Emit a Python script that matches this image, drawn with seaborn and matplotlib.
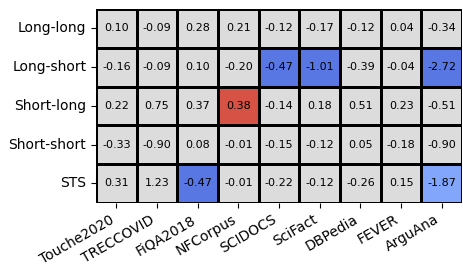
import numpy as np
import pandas as pd
import matplotlib
matplotlib.use('Agg')
import matplotlib.pyplot as plt
import seaborn as sns

datasets = ['Touche2020', 'TRECCOVID', 'FiQA2018', 'NFCorpus', 'SCIDOCS',
            'SciFact', 'DBPedia', 'FEVER', 'ArguAna']
settings = ['Long-long', 'Long-short', 'Short-long', 'Short-short', 'STS']

long_long = [0.10, -0.09, 0.28, 0.21, -0.12, -0.17, -0.12, 0.04, -0.34]
long_short = [-0.16, -0.09, 0.10, -0.20, -0.47, -1.01, -0.39, -0.04, -2.72]
short_long = [0.22, 0.75, 0.37, 0.38, -0.14, 0.18, 0.51, 0.23, -0.51]
short_short = [-0.33, -0.90, 0.08, -0.01, -0.15, -0.12, 0.05, -0.18, -0.90]
sts = [0.31, 1.23, -0.47, -0.01, -0.22, -0.12, -0.26, 0.15, -1.87]

# cell colour codes (0 = neutral, negative = blue, positive = red)
code_long_long = [0, 0, 0, 0, 0, 0, 0, 0, 0]
code_long_short = [0, 0, 0, 0, -0.8, -0.8, 0, 0, -0.8]
code_short_long = [0, 0, 0, 0.8, 0, 0, 0, 0, 0]
code_short_short = [0, 0, 0, 0, 0, 0, 0, 0, 0]
code_sts = [0, 0, -0.8, 0, 0, 0, 0, 0, -0.56]

values = pd.DataFrame([long_long, long_short, short_long, short_short, sts],
                      index=settings, columns=datasets)
codes = pd.DataFrame([code_long_long, code_long_short, code_short_long,
                      code_short_short, code_sts], index=settings, columns=datasets)

fig = plt.figure(figsize=(4.64, 2.68), dpi=100)
ax = fig.add_axes([0.207, 0.243, 0.789, 0.723])
sns.heatmap(codes, annot=values, fmt='.2f', cmap='coolwarm', vmin=-1, vmax=1,
            cbar=False, linewidths=0.8, linecolor='black',
            annot_kws={'fontsize': 8, 'color': 'black'}, ax=ax)
ax.set_xticklabels(datasets, rotation=30, ha='right', fontsize=10)
ax.set_yticklabels(settings, rotation=0, fontsize=10)
ax.set_xlabel('')
ax.set_ylabel('')
plt.savefig('out.png', dpi=100)
